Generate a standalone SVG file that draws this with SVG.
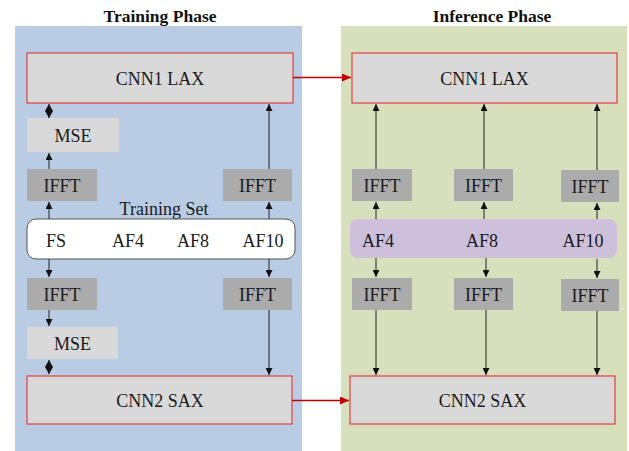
<svg xmlns="http://www.w3.org/2000/svg" width="629" height="451" viewBox="0 0 629 451">
  <style>
    text { font-family: "Liberation Serif", "Times New Roman", serif; font-size: 18px; fill: #1a1a1a; text-anchor: middle; }
    .title { font-weight: bold; font-size: 17.5px; fill: #111; }
    .cnn { fill: #d9d9d9; stroke: #e0403f; stroke-width: 1.2; }
    .mse { fill: #d9d9d9; }
    .ifft { fill: #ababab; }
    .link { stroke: #222; stroke-width: 1; fill: none; marker-end: url(#head); }
    .dual { stroke: #222; stroke-width: 1; fill: none; marker-start: url(#fathead); marker-end: url(#fathead); }
    .cross { stroke: #c00000; stroke-width: 1.3; fill: none; marker-end: url(#redhead); }
  </style>
  <defs>
    <marker id="head" markerUnits="userSpaceOnUse" markerWidth="8" markerHeight="7" refX="7" refY="3.5" orient="auto-start-reverse">
      <path d="M0,0 L7,3.5 L0,7 Z" fill="#111"/>
    </marker>
    <!-- two of these meeting head to tail form the diamond of a two-way link -->
    <marker id="fathead" markerUnits="userSpaceOnUse" markerWidth="8" markerHeight="8" refX="7" refY="4" orient="auto-start-reverse">
      <path d="M0,0 L7,4 L0,8 Z" fill="#111"/>
    </marker>
    <marker id="redhead" markerUnits="userSpaceOnUse" markerWidth="10" markerHeight="8" refX="9" refY="4" orient="auto">
      <path d="M0,0 L9,4 L0,8 Z" fill="#c00000"/>
    </marker>
  </defs>

  <rect width="629" height="451" fill="#ffffff"/>

  <!-- phase panels -->
  <g id="training-panel">
    <rect x="15" y="26" width="287" height="425" fill="#b9cce3"/>
    <text class="title" x="160" y="22">Training Phase</text>
  </g>
  <g id="inference-panel">
    <rect x="341" y="26" width="286" height="425" fill="#d8dfbd"/>
    <text class="title" x="492" y="22">Inference Phase</text>
  </g>

  <!-- training phase nodes -->
  <g id="t-cnn1">
    <rect class="cnn" x="27" y="53" width="266" height="50"/>
    <text x="160" y="85">CNN1 LAX</text>
  </g>
  <g id="t-mse-top">
    <rect class="mse" x="27" y="118" width="92" height="34"/>
    <text x="73" y="141.5">MSE</text>
  </g>
  <g id="t-ifft-top-left">
    <rect class="ifft" x="27" y="169" width="70" height="32"/>
    <text x="62" y="192">IFFT</text>
  </g>
  <g id="t-ifft-top-right">
    <rect class="ifft" x="223" y="169" width="69" height="32"/>
    <text x="257.5" y="192">IFFT</text>
  </g>
  <g id="t-training-set">
    <text x="164" y="215">Training Set</text>
    <rect x="27" y="219" width="268" height="40" rx="9" fill="#ffffff" stroke="#555" stroke-width="1"/>
    <text x="56" y="247">FS</text>
    <text x="128" y="247">AF4</text>
    <text x="193" y="247">AF8</text>
    <text x="263" y="247">AF10</text>
  </g>
  <g id="t-ifft-bottom-left">
    <rect class="ifft" x="27" y="278" width="70" height="32"/>
    <text x="62" y="301">IFFT</text>
  </g>
  <g id="t-ifft-bottom-right">
    <rect class="ifft" x="223" y="278" width="69" height="32"/>
    <text x="257.5" y="301">IFFT</text>
  </g>
  <g id="t-mse-bottom">
    <rect class="mse" x="27" y="327" width="91" height="32"/>
    <text x="72.5" y="349.5">MSE</text>
  </g>
  <g id="t-cnn2">
    <rect class="cnn" x="27" y="376" width="265" height="48"/>
    <text x="160" y="406.5">CNN2 SAX</text>
  </g>

  <!-- inference phase nodes -->
  <g id="i-cnn1">
    <rect class="cnn" x="352" y="53" width="265" height="50"/>
    <text x="484.5" y="85">CNN1 LAX</text>
  </g>
  <g id="i-ifft-top-1">
    <rect class="ifft" x="352" y="169" width="60" height="32"/>
    <text x="382" y="192">IFFT</text>
  </g>
  <g id="i-ifft-top-2">
    <rect class="ifft" x="454" y="169" width="59" height="32"/>
    <text x="483.5" y="192">IFFT</text>
  </g>
  <g id="i-ifft-top-3">
    <rect class="ifft" x="561" y="170" width="58" height="32"/>
    <text x="590" y="193">IFFT</text>
  </g>
  <g id="i-accelerations">
    <rect x="350" y="219" width="267" height="39" rx="8" fill="#ccc0da"/>
    <text x="378" y="247">AF4</text>
    <text x="482" y="247">AF8</text>
    <text x="583" y="247">AF10</text>
  </g>
  <g id="i-ifft-bottom-1">
    <rect class="ifft" x="352" y="278" width="60" height="32"/>
    <text x="382" y="301">IFFT</text>
  </g>
  <g id="i-ifft-bottom-2">
    <rect class="ifft" x="454" y="278" width="59" height="32"/>
    <text x="483.5" y="301">IFFT</text>
  </g>
  <g id="i-ifft-bottom-3">
    <rect class="ifft" x="561" y="279" width="58" height="32"/>
    <text x="590" y="302">IFFT</text>
  </g>
  <g id="i-cnn2">
    <rect class="cnn" x="350" y="376" width="265" height="48"/>
    <text x="482.5" y="406.5">CNN2 SAX</text>
  </g>

  <!-- connectors -->
  <g id="connectors">
    <!-- training, upper branch -->
    <line class="dual" x1="49" y1="104" x2="49" y2="118"/>
    <line class="link" x1="49" y1="169" x2="49" y2="153"/>
    <line class="link" x1="49" y1="219" x2="49" y2="202"/>
    <line class="link" x1="269" y1="219" x2="269" y2="202"/>
    <line class="link" x1="269" y1="169" x2="269" y2="104"/>
    <!-- training, lower branch -->
    <line class="link" x1="49" y1="259" x2="49" y2="277"/>
    <line class="link" x1="49" y1="310" x2="49" y2="326"/>
    <line class="dual" x1="49" y1="360" x2="49" y2="374"/>
    <line class="link" x1="269" y1="259" x2="269" y2="277"/>
    <line class="link" x1="269" y1="310" x2="269" y2="375"/>
    <!-- trained weights carried over -->
    <line class="cross" x1="293" y1="77.5" x2="351" y2="77.5"/>
    <line class="cross" x1="292" y1="400.5" x2="349" y2="400.5"/>
    <!-- inference, upper branch -->
    <line class="link" x1="376" y1="219" x2="376" y2="202"/>
    <line class="link" x1="376" y1="169" x2="376" y2="104"/>
    <line class="link" x1="484" y1="219" x2="484" y2="202"/>
    <line class="link" x1="484" y1="169" x2="484" y2="104"/>
    <line class="link" x1="597" y1="219" x2="597" y2="203"/>
    <line class="link" x1="597" y1="170" x2="597" y2="104"/>
    <!-- inference, lower branch -->
    <line class="link" x1="376" y1="258" x2="376" y2="277"/>
    <line class="link" x1="376" y1="310" x2="376" y2="375"/>
    <line class="link" x1="486" y1="258" x2="486" y2="277"/>
    <line class="link" x1="486" y1="310" x2="486" y2="375"/>
    <line class="link" x1="597" y1="259" x2="597" y2="278"/>
    <line class="link" x1="597" y1="311" x2="597" y2="375"/>
  </g>
</svg>
